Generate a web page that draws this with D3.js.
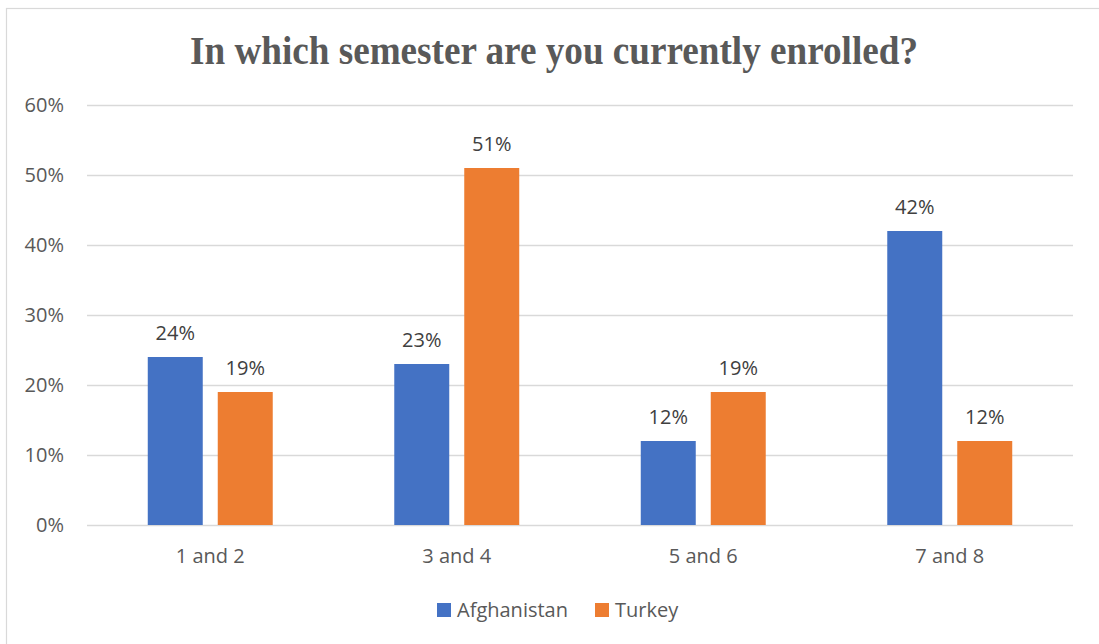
<!DOCTYPE html>
<html>
<head>
<meta charset="utf-8">
<script src="https://cdn.jsdelivr.net/npm/d3@7"></script>
<style>
  html, body { margin: 0; padding: 0; background: #fff; }
  svg { display: block; }
</style>
</head>
<body>
<svg id="chart" width="1099" height="644"></svg>
<script>
// Survey answers: share of students per semester group
const categories = ["1 and 2", "3 and 4", "5 and 6", "7 and 8"];
const seriesNames = ["Afghanistan", "Turkey"];
const afghanistan = [0.24, 0.23, 0.12, 0.42];
const turkey = [0.19, 0.51, 0.19, 0.12];
const yTicks = [0, 0.1, 0.2, 0.3, 0.4, 0.5, 0.6];
const colors = ["#4472C4", "#ED7D31"];
const titleText = "In which semester are you currently enrolled?";

const values = [afghanistan, turkey];
const svg = d3.select("#chart");
const W = 1099, H = 644;
const plot = { left: 87, right: 1073, top: 105, bottom: 525 };
const font = "'Open Sans', 'Noto Sans', sans-serif";
const fs = 20;

// Chart frame (top and left edges only, the rest runs off the page)
svg.append("rect").attr("x", 6.5).attr("y", 8.5).attr("width", W).attr("height", H)
  .attr("fill", "#fff").attr("stroke", "#d9d9d9").attr("stroke-width", 1.2);

// Title
svg.append("text")
  .attr("x", 554).attr("y", 64)
  .attr("text-anchor", "middle")
  .attr("font-family", "'Liberation Serif', 'Times New Roman', serif")
  .attr("font-weight", "bold")
  .attr("font-size", 39)
  .attr("textLength", 728)
  .attr("lengthAdjust", "spacingAndGlyphs")
  .attr("fill", "#595959")
  .text(titleText);

const y = d3.scaleLinear().domain([0, 0.6]).range([plot.bottom, plot.top]);
const x0 = d3.scaleBand().domain(categories).range([plot.left, plot.right]).padding(0);
const groupW = x0.step() * 0.507;
const x1 = d3.scaleBand().domain(seriesNames).range([-groupW / 2, groupW / 2]).paddingInner(0.2143).paddingOuter(0);

// Gridlines and y labels
const yAxis = d3.axisLeft(y).tickValues(yTicks).tickFormat(d3.format(".0%"))
  .tickSize(-(plot.right - plot.left)).tickPadding(23);
const gy = svg.append("g").attr("transform", `translate(${plot.left},0)`).call(yAxis);
gy.select(".domain").remove();
gy.selectAll(".tick line").attr("stroke", "#d9d9d9").attr("stroke-width", 1.3);
gy.selectAll(".tick text")
  .attr("font-family", font)
  .attr("font-size", fs).attr("fill", "#595959");

// x labels
const xAxis = d3.axisBottom(x0).tickSize(0).tickPadding(24);
const gx = svg.append("g").attr("transform", `translate(0,${plot.bottom})`).call(xAxis);
gx.select(".domain").remove();
gx.selectAll(".tick text")
  .attr("font-family", font)
  .attr("font-size", fs).attr("fill", "#595959");

// Bars with value labels
const groups = svg.append("g").selectAll("g")
  .data(categories)
  .join("g")
  .attr("transform", d => `translate(${x0(d) + x0.bandwidth() / 2},0)`);

groups.selectAll("rect")
  .data((c, i) => seriesNames.map((s, k) => ({ s, k, v: values[k][i] })))
  .join("rect")
  .attr("x", d => x1(d.s))
  .attr("width", x1.bandwidth())
  .attr("y", d => y(d.v))
  .attr("height", d => y(0) - y(d.v))
  .attr("fill", d => colors[d.k]);

groups.selectAll("text.val")
  .data((c, i) => seriesNames.map((s, k) => ({ s, k, v: values[k][i] })))
  .join("text")
  .attr("class", "val")
  .attr("x", d => x1(d.s) + x1.bandwidth() / 2)
  .attr("y", d => y(d.v) - 17)
  .attr("text-anchor", "middle")
  .attr("font-family", font)
  .attr("font-size", fs)
  .attr("fill", "#404040")
  .text(d => d3.format(".0%")(d.v));

// Legend
const legend = svg.append("g");
const legendItems = [
  { name: seriesNames[0], color: colors[0], x: 437 },
  { name: seriesNames[1], color: colors[1], x: 595 }
];
legendItems.forEach(it => {
  legend.append("rect").attr("x", it.x).attr("y", 603).attr("width", 14).attr("height", 14).attr("fill", it.color);
  legend.append("text").attr("x", it.x + 20).attr("y", 617)
    .attr("font-family", font)
    .attr("font-size", fs).attr("fill", "#595959")
    .text(it.name);
});
</script>
</body>
</html>
